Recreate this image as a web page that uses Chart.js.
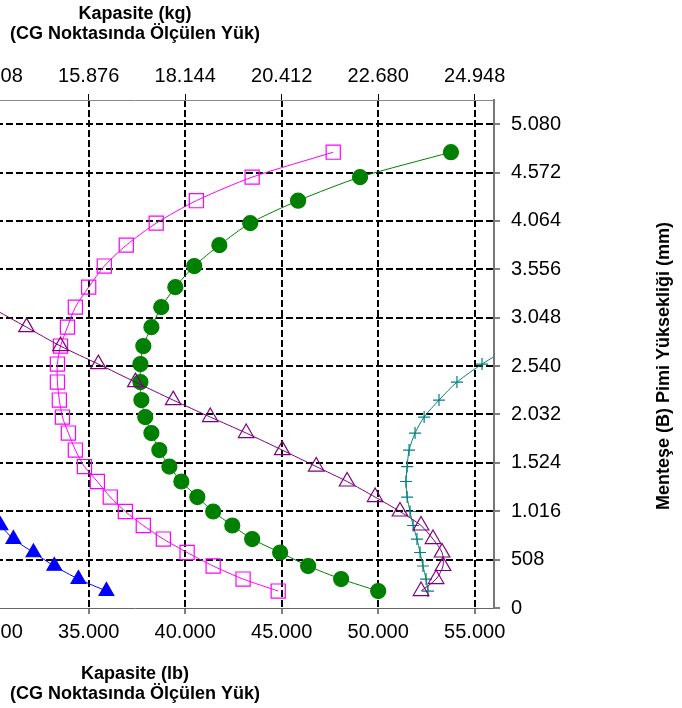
<!DOCTYPE html>
<html>
<head>
<meta charset="utf-8">
<script src="https://cdn.jsdelivr.net/npm/chart.js@4.4.1/dist/chart.umd.min.js"></script>
<style>
html, body { margin: 0; padding: 0; background: #fff; overflow: hidden; }
#wrap { position: relative; width: 682px; height: 708px; overflow: hidden; }
#chart { position: absolute; left: -240px; top: 0; }
</style>
</head>
<body>
<div id="wrap"><canvas id="chart" width="922" height="708"></canvas></div>
<script>
// hinge pin height (mm), shared by every curve
var pinHeightMm = [178, 304, 441, 583, 724, 866, 1013, 1165, 1328, 1485, 1658, 1837, 2005,
    2183, 2372, 2561, 2750, 2949, 3159, 3369, 3590, 3810, 4041, 4277, 4524, 4786];

// capacity (lb) at each height, one array per curve
var squareLb = [44820, 43000, 41450, 40100, 38870, 37830, 36900, 36120, 35450, 34780, 34310, 33950, 33640,
    33480, 33380, 33380, 33540, 33900, 34310, 35000, 35810, 36950, 38500, 40580, 43470, 47670];
var circleLb = [50000, 48080, 46370, 44920, 43470, 42440, 41450, 40630, 39800, 39180, 38660, 38250, 37930,
    37730, 37680, 37680, 37830, 38250, 38760, 39490, 40470, 41770, 43370, 45850, 49060, 53770];
var openTriangleLb = [52220, 53000, 53360, 53310, 52840, 52220, 51130, 49840, 48390, 46790, 45030, 43160,
    41300, 39380, 37420, 35500, 33540, 31780, 29910];
var plusLb = [52580, 52480, 52320, 52170, 52010, 51810, 51650, 51500, 51440, 51500, 51600, 51910, 52380,
    53150, 54080, 55380, 56930];
var filledTriangleLb = [35920, 34470, 33220, 32140, 31100, 30430, 29700];

// axis ticks and labels
var lbTicks = [20000, 25000, 30000, 35000, 40000, 45000, 50000, 55000];
var lbLabels = ['20.000', '25.000', '30.000', '35.000', '40.000', '45.000', '50.000', '55.000'];
var kgLabels = ['9.072', '11.340', '13.608', '15.876', '18.144', '20.412', '22.680', '24.948'];
var mmTicks = [0, 508, 1016, 1524, 2032, 2540, 3048, 3556, 4064, 4572, 5080];
var mmLabels = ['0', '508', '1.016', '1.524', '2.032', '2.540', '3.048', '3.556', '4.064', '4.572', '5.080'];

var bottomTitle = ['Kapasite (lb)', '(CG Noktasında Ölçülen Yük)'];
var topTitle = ['Kapasite (kg)', '(CG Noktasında Ölçülen Yük)'];
var rightTitle = 'Menteşe (B) Pimi Yüksekliği (mm)';

Chart.defaults.font.family = '"Liberation Sans", Arial, sans-serif';
Chart.defaults.color = '#000';

function toPoints(values) {
    return values.map(function (v, i) {
        return { x: v, y: pinHeightMm[i] };
    });
}

function series(values, color, style, radius, filled) {
    return {
        data: toPoints(values),
        borderColor: color,
        borderWidth: 1,
        tension: 0.25,
        pointStyle: style,
        pointRadius: radius,
        pointHoverRadius: radius,
        pointBorderColor: color,
        pointBorderWidth: 1.2,
        pointBackgroundColor: filled ? color : 'rgba(0,0,0,0)'
    };
}

var rightTitlePlugin = {
    id: 'rightTitle',
    afterDraw: function (chart) {
        var ctx = chart.ctx;
        ctx.save();
        ctx.translate(904, 366);
        ctx.rotate(-Math.PI / 2);
        ctx.font = 'bold 18px "Liberation Sans", Arial, sans-serif';
        ctx.fillStyle = '#000';
        ctx.textAlign = 'center';
        ctx.textBaseline = 'middle';
        ctx.fillText(rightTitle, 0, 0);
        ctx.restore();
    }
};

function setLbTicks(axis) {
    axis.ticks = lbTicks.map(function (v) { return { value: v }; });
}

var ctx = document.getElementById('chart').getContext('2d');
var myChart = new Chart(ctx, {
    type: 'line',
    data: {
        datasets: [
            series(openTriangleLb, '#800080', 'triangle', 9, false),
            series(plusLb, '#008080', 'cross', 6, false),
            series(squareLb, '#FF00FF', 'rect', 10, false),
            series(circleLb, '#008000', 'circle', 7.5, true),
            series(filledTriangleLb, '#0000FF', 'triangle', 8.5, true)
        ]
    },
    options: {
        responsive: false,
        animation: false,
        layout: { padding: { left: 16, right: 0, top: 0, bottom: 0 } },
        plugins: { legend: { display: false }, tooltip: { enabled: false } },
        scales: {
            x: {
                type: 'linear',
                position: 'bottom',
                min: 18800,
                max: 56000,
                afterBuildTicks: setLbTicks,
                afterFit: function (axis) { axis.height = 100; },
                ticks: {
                    autoSkip: false,
                    maxRotation: 0,
                    padding: 6,
                    font: { size: 20 },
                    callback: function (v) { return lbLabels[lbTicks.indexOf(v)]; }
                },
                grid: { color: '#000', lineWidth: 2, tickLength: 6, tickColor: '#000', tickWidth: 1 },
                border: { color: '#666', width: 1, dash: [7, 3] },
                title: {
                    display: true,
                    text: bottomTitle,
                    font: { size: 18, weight: 'bold', lineHeight: 1.1 },
                    padding: { top: 0, bottom: 4 }
                }
            },
            x2: {
                type: 'linear',
                position: 'top',
                min: 18800,
                max: 56000,
                afterBuildTicks: setLbTicks,
                afterFit: function (axis) { axis.height = 100; },
                ticks: {
                    autoSkip: false,
                    maxRotation: 0,
                    padding: 6,
                    font: { size: 20 },
                    callback: function (v) { return kgLabels[lbTicks.indexOf(v)]; }
                },
                grid: { drawOnChartArea: false, tickLength: 6, tickColor: '#000', tickWidth: 1 },
                border: { color: '#888', width: 1 },
                title: {
                    display: true,
                    text: topTitle,
                    font: { size: 18, weight: 'bold', lineHeight: 1.1 },
                    padding: { top: 4, bottom: 0 }
                }
            },
            y: {
                type: 'linear',
                position: 'right',
                min: 0,
                max: 5334,
                afterBuildTicks: function (axis) {
                    axis.ticks = mmTicks.map(function (v) { return { value: v }; });
                },
                afterFit: function (axis) { axis.width = 188; },
                ticks: {
                    autoSkip: false,
                    padding: 11,
                    font: { size: 20 },
                    callback: function (v) { return mmLabels[mmTicks.indexOf(v)]; }
                },
                grid: {
                    color: function (c) { return c.tick && c.tick.value === 0 ? 'rgba(0,0,0,0)' : '#000'; },
                    lineWidth: 2,
                    tickLength: 6,
                    tickColor: '#000',
                    tickWidth: 1
                },
                border: { color: '#777', width: 2, dash: [7, 3] }
            }
        }
    },
    plugins: [rightTitlePlugin]
});
</script>
</body>
</html>
